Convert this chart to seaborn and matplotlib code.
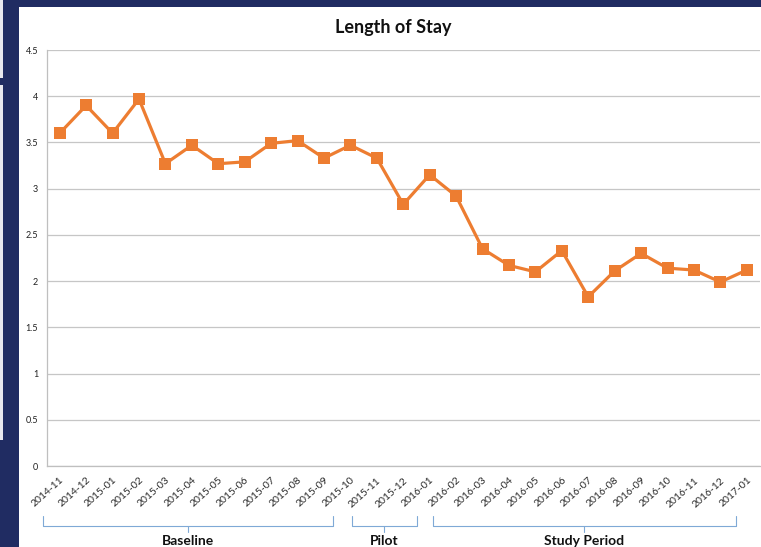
"""
Length of Stay by month, with Baseline / Pilot / Study Period brackets.
"""

import numpy as np
import pandas as pd
import matplotlib.pyplot as plt
import matplotlib.patches as mpatches
import seaborn as sns

# Data
months = ['2014-11', '2014-12', '2015-01', '2015-02', '2015-03', '2015-04',
          '2015-05', '2015-06', '2015-07', '2015-08', '2015-09', '2015-10',
          '2015-11', '2015-12', '2016-01', '2016-02', '2016-03', '2016-04',
          '2016-05', '2016-06', '2016-07', '2016-08', '2016-09', '2016-10',
          '2016-11', '2016-12', '2017-01']
length_of_stay = [3.60, 3.90, 3.60, 3.97, 3.27, 3.47, 3.27, 3.29, 3.49, 3.52,
                  3.33, 3.47, 3.33, 2.83, 3.15, 2.92, 2.35, 2.17, 2.10, 2.33,
                  1.83, 2.11, 2.30, 2.14, 2.12, 1.99, 2.12]
y_ticks = [0, 0.5, 1, 1.5, 2, 2.5, 3, 3.5, 4, 4.5]
y_tick_labels = ['0', '0.5', '1', '1.5', '2', '2.5', '3', '3.5', '4', '4.5']
phase_names = ['Baseline', 'Pilot', 'Study Period']

ORANGE = '#ED7D31'
NAVY = '#202c62'
BRACKET = '#7fa9d6'

sns.set_theme(style='white')
plt.rcParams['font.family'] = ['Lato', 'DejaVu Sans']

df = pd.DataFrame({'pos': np.arange(len(months)), 'los': length_of_stay})

fig = plt.figure(figsize=(7.61, 5.47), dpi=100, facecolor=NAVY)

# white slide panel and thin light strip on the far left
for rect in [(19 / 761, 0, 1, 1 - 7 / 547),
             (0, 1 - 78 / 547, 3 / 761, 78 / 547),
             (0, 1 - 440 / 547, 3 / 761, 355 / 547)]:
    fig.patches.append(mpatches.Rectangle(rect[:2], rect[2], rect[3],
                                          transform=fig.transFigure,
                                          facecolor='white' if rect[0] > 0 else '#e8e8ee',
                                          edgecolor='none', zorder=-5))

ax = fig.add_axes([46.5 / 761, 1 - 466 / 547, 713.5 / 761, 416 / 547])
ax.set_facecolor('white')

sns.lineplot(data=df, x='pos', y='los', ax=ax, color=ORANGE, linewidth=2.3,
             marker='s', markersize=8.5, markeredgewidth=0, sort=False, zorder=3)

ax.set_xlim(-0.5, len(months) - 0.5)
ax.set_ylim(0, 4.5)
ax.set_yticks(y_ticks)
ax.set_yticklabels(y_tick_labels, fontsize=6.5, color='#222222')
ax.set_xticks(df['pos'])
ax.set_xticklabels(months, rotation=42, ha='right', rotation_mode='anchor',
                   fontsize=7.5, color='#2a2a2a')
ax.set_xticks(np.arange(len(months) + 1) - 0.5, minor=True)
ax.tick_params(axis='x', which='major', length=0, pad=7)
ax.tick_params(axis='x', which='minor', length=3, width=0.8, color='#bfbfbf')
ax.tick_params(axis='y', length=3, width=0.8, color='#bfbfbf', pad=3)
ax.set_xlabel('')
ax.set_ylabel('')

ax.grid(True, axis='y', color='#c6c6c6', linewidth=0.9)
ax.grid(False, axis='x')
for side in ['top', 'right']:
    ax.spines[side].set_visible(False)
for side in ['left', 'bottom']:
    ax.spines[side].set_color('#bfbfbf')
    ax.spines[side].set_linewidth(0.9)

# phase brackets below the month labels
trans = ax.get_xaxis_transform()
spans = [(-0.64, 10.33), (11.05, 13.51), (14.12, 25.59)]
y_top, y_line, y_tip, y_text = -0.120, -0.144, -0.158, -0.180
for name, (x0, x1) in zip(phase_names, spans):
    xc = (x0 + x1) / 2
    ax.plot([x0, x0, x1, x1], [y_top, y_line, y_line, y_top], transform=trans,
            color=BRACKET, linewidth=0.8, clip_on=False)
    ax.plot([xc, xc], [y_line, y_tip], transform=trans,
            color=BRACKET, linewidth=0.8, clip_on=False)
    ax.text(xc, y_text, name, transform=trans, ha='center', va='center',
            fontsize=10, fontweight='bold', color='#111111', clip_on=False)

fig.text(393 / 761, 1 - 28 / 547, 'Length of Stay', ha='center', va='center',
         fontsize=13, fontweight='bold', color='#111111')

fig.savefig('out.png', dpi=100, facecolor=NAVY)
